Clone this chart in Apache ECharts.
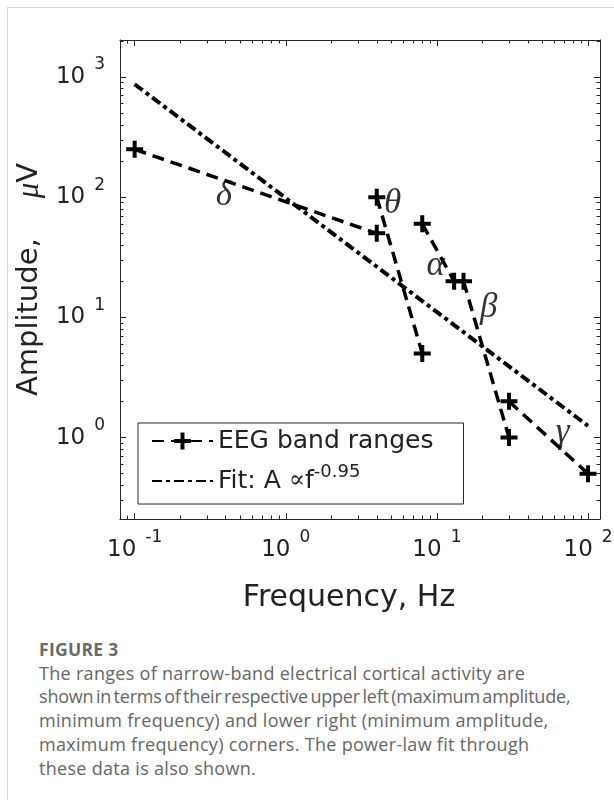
<!DOCTYPE html>
<html>
<head>
<meta charset="utf-8">
<script src="https://cdn.jsdelivr.net/npm/echarts@6/dist/echarts.min.js"></script>
<style>
  html, body { margin: 0; padding: 0; background: #fff; }
  body { width: 614px; height: 800px; position: relative; overflow: hidden; }
  .frame { position: absolute; left: 7px; top: 7px; width: 700px; height: 900px;
    border-top: 1px solid #d6d6d6; border-left: 1px solid #d6d6d6; }
  #chart { position: absolute; left: 0; top: 0; width: 614px; height: 630px; }
  .caption { position: absolute; left: 39px; top: 638px; font-family: "Open Sans", sans-serif;
    font-size: 18px; letter-spacing: 0.3px; line-height: 23.7px; color: #666; white-space: nowrap; }
  .caption b { font-weight: 700; color: #6b6b6b; letter-spacing: 0.3px; font-size: 17.5px; }
  .tight { word-spacing: -2px; letter-spacing: -0.2px; }
</style>
</head>
<body>
<div class="frame"></div>
<div id="chart"></div>
<div class="caption">
  <b>FIGURE 3</b><br>
  The ranges of narrow-band electrical cortical activity are<br>
  <span class="tight">shown in terms of their respective upper left (maximum amplitude,</span><br>
  minimum frequency) and lower right (minimum amplitude,<br>
  maximum frequency) corners. The power-law fit through<br>
  these data is also shown.
</div>
<script>
// EEG bands: upper-left corner (low freq, high amp) and lower-right corner (high freq, low amp)
const bandNames = ['δ', 'θ', 'α', 'β', 'γ']
const bandFreqLow = [0.1, 4, 8, 15, 30]
const bandAmpHigh = [250, 100, 60, 20, 2]
const bandFreqHigh = [4, 8, 13, 30, 100]
const bandAmpLow = [50, 5, 20, 1, 0.5]

// where the greek letters sit
const labelFreq = [0.39, 5.1, 9.8, 22, 68]
const labelAmp = [102, 88, 27, 12, 1.1]

// power-law fit A ~ f^-0.95, end points
const fitFreq = [0.1, 100]
const fitAmp = [870, 1.25]

const xMin = 0.08
const xMax = 120
const yMin = 0.21
const yMax = 2030

const xMajor = [0.1, 1, 10, 100]
const xMinor = [0.08, 0.09, 0.2, 0.3, 0.4, 0.5, 0.6, 0.7, 0.8, 0.9,
  2, 3, 4, 5, 6, 7, 8, 9, 20, 30, 40, 50, 60, 70, 80, 90]
const yMajor = [1, 10, 100, 1000]
const yMinor = [0.3, 0.4, 0.5, 0.6, 0.7, 0.8, 0.9, 2, 3, 4, 5, 6, 7, 8, 9,
  20, 30, 40, 50, 60, 70, 80, 90, 200, 300, 400, 500, 600, 700, 800, 900, 2000]

const sans = 'DejaVu Sans'
const serif = 'Liberation Serif'
const ink = '#222'
const frameColor = '#262626'

const powLabel = (v) => '{b|10}{s|' + Math.round(Math.log10(v)) + '}'
const tickRich = {
  b: { fontFamily: sans, fontSize: 23, color: ink, lineHeight: 36 },
  s: { fontFamily: sans, fontSize: 17, color: ink, height: 12, verticalAlign: 'top', padding: [0, 0, 0, 9] },
}

const plus = 'path://M6.5,0h4v6.5h6.5v4h-6.5v6.5h-4v-6.5h-6.5v-4h6.5z'

function makeAxis(kind, position, ticks, len, withLine, withLabels) {
  const horiz = kind === 'x'
  const ax = {
    type: 'log',
    logBase: 10,
    min: horiz ? xMin : yMin,
    max: horiz ? xMax : yMax,
    position,
    axisLine: { show: withLine, onZero: false, lineStyle: { color: frameColor, width: 1 } },
    axisTick: { show: true, inside: true, length: len, customValues: ticks, lineStyle: { color: frameColor, width: 1 } },
    axisLabel: { show: false },
    splitLine: { show: false },
    minorTick: { show: false },
  }
  if (withLabels) {
    ax.axisLabel = {
      show: true,
      customValues: ticks,
      margin: horiz ? 13 : 15,
      formatter: powLabel,
      rich: tickRich,
    }
  }
  return ax
}

const xAxes = [
  makeAxis('x', 'bottom', xMajor, 6, true, true),
  makeAxis('x', 'bottom', xMinor, 3.5, false, false),
  makeAxis('x', 'top', xMajor, 6, true, false),
  makeAxis('x', 'top', xMinor, 3.5, false, false),
]
xAxes[0].name = 'Frequency, Hz'
xAxes[0].nameLocation = 'middle'
xAxes[0].nameGap = 64
xAxes[0].nameTextStyle = { fontFamily: sans, fontSize: 30, color: ink, padding: [0, 22, 0, 0] }

const yAxes = [
  makeAxis('y', 'left', yMajor, 6, true, true),
  makeAxis('y', 'left', yMinor, 3.5, false, false),
  makeAxis('y', 'right', yMajor, 6, true, false),
  makeAxis('y', 'right', yMinor, 3.5, false, false),
]
yAxes[0].name = '{a|Amplitude,}{sp| }{m|μ}{a|V}'
yAxes[0].nameLocation = 'middle'
yAxes[0].nameRotate = 90
yAxes[0].nameGap = 67
yAxes[0].nameTextStyle = {
  rich: {
    a: { fontFamily: sans, fontSize: 29, color: ink },
    sp: { width: 40, fontSize: 29 },
    m: { fontFamily: serif, fontStyle: 'italic', fontSize: 31, color: ink },
  },
}

const bandSeries = bandNames.map((name, i) => ({
  name: 'EEG band ranges',
  type: 'line',
  data: [[bandFreqLow[i], bandAmpHigh[i]], [bandFreqHigh[i], bandAmpLow[i]]],
  symbol: plus,
  symbolSize: 17,
  showSymbol: true,
  itemStyle: { color: '#000' },
  lineStyle: { color: '#000', width: 3.5, type: [12, 7] },
  emphasis: { disabled: true },
  z: 3,
}))

const option = {
  animation: false,
  grid: { left: 120, top: 40, width: 480, height: 479, containLabel: false, outerBoundsMode: 'none' },
  xAxis: xAxes,
  yAxis: yAxes,
  legend: {
    left: 138,
    top: 423,
    orient: 'vertical',
    data: ['EEG band ranges', 'Fit: A ∝f^-0.95'],
    itemWidth: 61,
    itemHeight: 21,
    itemGap: 7,
    padding: [3, 30, 8, 13],
    borderColor: frameColor,
    borderWidth: 1,
    backgroundColor: '#fff',
    selectedMode: false,
    textStyle: {
      fontFamily: sans,
      fontSize: 25,
      color: ink,
      lineHeight: 30,
      rich: {
        t: { fontFamily: sans, fontSize: 25, color: ink, lineHeight: 30 },
        p: { fontFamily: 'DejaVu Serif', fontSize: 24, color: ink, lineHeight: 30 },
        s: { fontFamily: sans, fontSize: 18, color: ink, height: 12, verticalAlign: 'top' },
      },
    },
    formatter: (name) => {
      if (name.indexOf('Fit') === 0) return '{t|Fit: A }{p|∝}{t|f}{s|-0.95}'
      return name
    },
  },
  series: [
    ...bandSeries,
    {
      name: 'Fit: A ∝f^-0.95',
      type: 'line',
      data: fitFreq.map((f, i) => [f, fitAmp[i]]),
      symbol: 'none',
      showSymbol: false,
      lineStyle: { color: '#000', width: 4, type: [10, 4, 4, 4] },
      // keeps the legend icon a bare line
      itemStyle: { color: '#000', opacity: 0 },
      emphasis: { disabled: true },
      z: 2,
    },
    {
      name: 'bands',
      type: 'scatter',
      data: labelFreq.map((f, i) => [f, labelAmp[i]]),
      symbolSize: 1,
      itemStyle: { color: 'rgba(0,0,0,0)' },
      silent: true,
      label: {
        show: true,
        position: 'inside',
        formatter: (p) => bandNames[p.dataIndex],
        fontFamily: serif,
        fontStyle: 'italic',
        fontSize: 35,
        color: '#000',
      },
      z: 4,
    },
  ],
}

const myChart = echarts.init(document.getElementById('chart'), null, { renderer: 'canvas' })
myChart.setOption(option)
</script>
</body>
</html>
